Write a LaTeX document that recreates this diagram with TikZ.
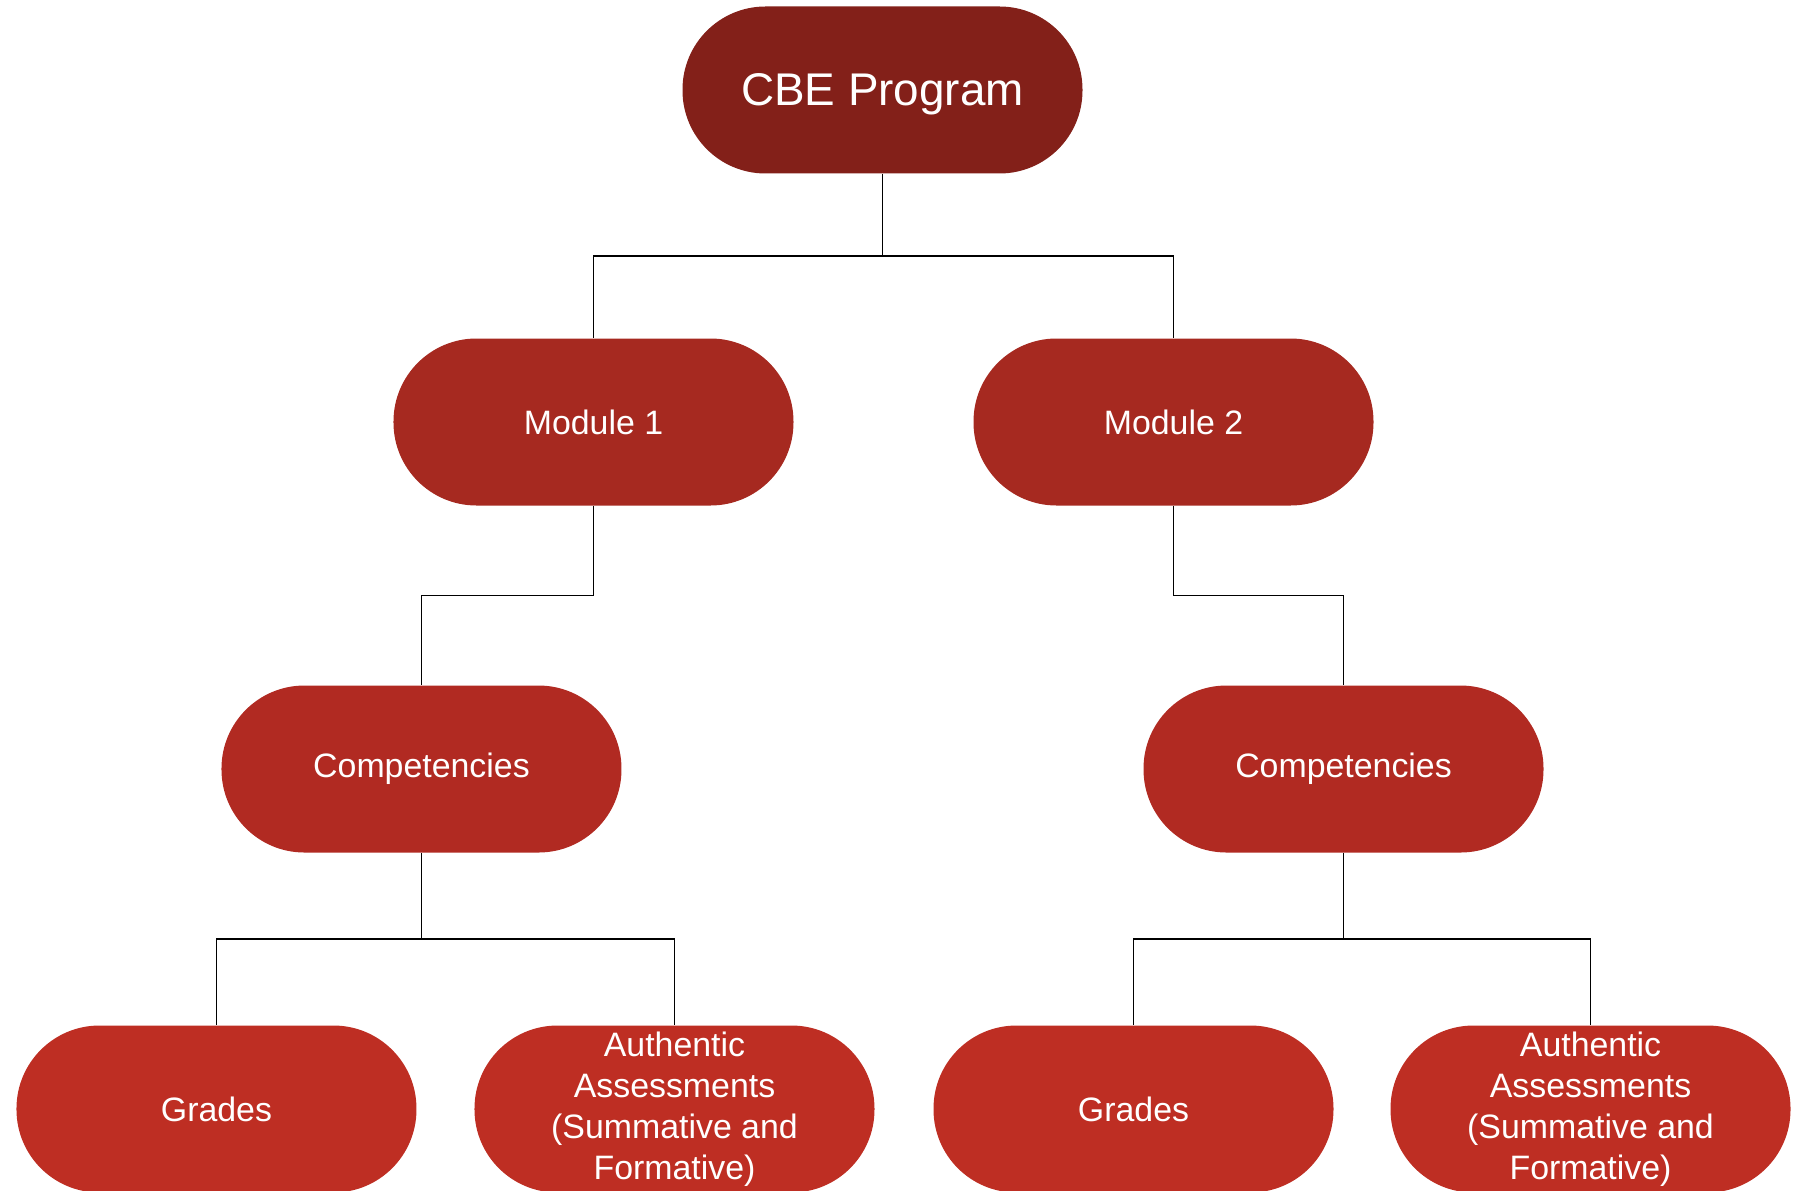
\documentclass[tikz,border=0pt]{standalone}
\usepackage{fontspec}
\setmainfont{Liberation Sans}
\usetikzlibrary{positioning, calc}
\definecolor{cbeTop}{RGB}{131,32,25}
\definecolor{cbeModule}{RGB}{166,41,32}
\definecolor{cbeComp}{RGB}{177,42,34}
\definecolor{cbeLeaf}{RGB}{190,46,35}

\begin{document}
\begin{tikzpicture}[x=0.5bp,y=-0.5bp,on grid,
    pill/.style={rectangle, rounded corners=41.5bp, minimum width=200bp,
      minimum height=83.5bp, inner sep=0pt, align=center, text=white,
      font=\fontsize{17}{20.5}\selectfont},
    link/.style={draw=black, line width=0.9pt}]
    \useasboundingbox (0,0) rectangle (1795,1191);

      \node[pill,fill=cbeTop,text depth=0pt,font=\fontsize{23}{27}\selectfont] (top) at (882.5,90) {CBE Program};
      \node[pill,fill=cbeModule] (m1) [below left=166bp and 144.5bp of top] {Module 1};
      \node[pill,fill=cbeModule] (m2) [below right=166bp and 145.5bp of top] {Module 2};
      \node[pill,fill=cbeComp] (c1) [below left=173.5bp and 86bp of m1] {Competencies};
      \node[pill,fill=cbeComp] (c2) [below right=173.5bp and 85bp of m2] {Competencies};
      \node[pill,fill=cbeLeaf] (g1) [below left=170bp and 102.5bp of c1] {Grades};
      \node[pill,fill=cbeLeaf] (a1) [below right=170bp and 126.5bp of c1] {Authentic\\Assessments\\(Summative and\\Formative)};
      \node[pill,fill=cbeLeaf] (g2) [below left=170bp and 105bp of c2] {Grades};
      \node[pill,fill=cbeLeaf] (a2) [below right=170bp and 123.5bp of c2] {Authentic\\Assessments\\(Summative and\\Formative)};

      \foreach \a/\b in {top/m1, top/m2, m1/c1, m2/c2, c1/g1, c1/a1, c2/g2, c2/a2}
        \draw[link] (\a.south) |- ($(\a.south)!.5!(\b.north)$) -| (\b.north);
    \end{tikzpicture}
\end{document}
